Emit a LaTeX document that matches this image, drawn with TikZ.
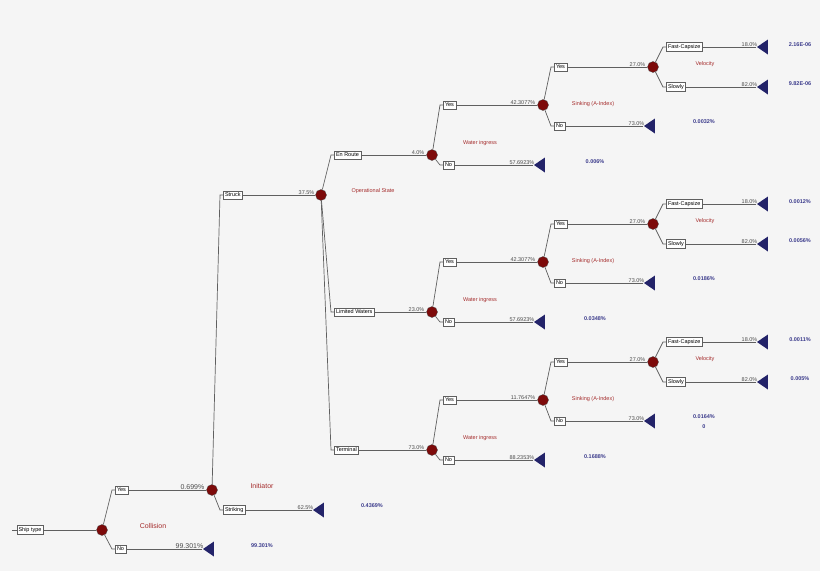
\documentclass[tikz,border=0pt]{standalone}
\usepackage{fontspec}
\setmainfont{Liberation Sans}
\usetikzlibrary{shapes.geometric}
\definecolor{bg}{RGB}{245,245,245}
\definecolor{ln}{RGB}{95,95,95}
\definecolor{cn}{RGB}{125,10,10}
\definecolor{tri}{RGB}{35,35,105}
\definecolor{blu}{RGB}{60,60,140}
\definecolor{rd}{RGB}{165,45,45}
\newcommand\brch[5]{\node[box,anchor=west] (#2) at (#3,#4) {#5};
 \draw[ln] (#1) -- (#3-3,#4) -- (#2.west);}
\begin{document}
\begin{tikzpicture}[x=1pt,y=-1pt,
 box/.style={draw=ln,fill=white,inner sep=1.8pt,font=\fontsize{5.5}{6.5}\selectfont,line width=0.4pt},
 ch/.style={circle,fill=cn,draw=black!70,line width=0.3pt,minimum size=11pt,inner sep=0pt},
 en/.style={isosceles triangle,shape border rotate=180,fill=tri,minimum height=11pt,minimum width=15pt,inner sep=0pt,isosceles triangle stretches},
 ln/.style={draw=ln,line width=0.7pt},
 pc/.style={font=\fontsize{5.5}{6.5}\selectfont,text=black!70,anchor=south east,inner sep=0.5pt},
 rl/.style={font=\fontsize{5.5}{6.5}\selectfont,text=rd},
 bl/.style={font=\bfseries\fontsize{5.5}{6.5}\selectfont,text=blu}]
\fill[bg] (0,0) rectangle (820,571);
\useasboundingbox (0,0) rectangle (820,571);
% root
\node[box] (ship) at (30,530) {Ship type};
\coordinate (st) at (12,530);
\draw[ln] (st) -- (ship.west);
\node[ch] (c0) at (102,530) {};
\draw[ln] (ship.east) -- (c0);
\node[rl,font=\fontsize{7}{8}\selectfont] (t0) at (153,526) {Collision};
\brch{c0}{yes0}{115}{490}{Yes}
\node[ch] (c1) at (212,490) {};
\draw[ln] (yes0.east) -- (c1);
\node[pc,font=\fontsize{7}{8}\selectfont] (p0) at (205,490) {0.699\%};
\brch{c0}{no0}{115}{549}{No}
\node[en] (e0) at (210,549) {};
\draw[ln] (no0.east) -- (e0.apex);
\node[pc,font=\fontsize{7}{8}\selectfont] (p1) at (204,549) {99.301\%};
\node[bl] (b0) at (262,546) {99.301\%};
% initiator
\node[rl,font=\fontsize{7}{8}\selectfont] (t1) at (262,486) {Initiator};
\brch{c1}{struck}{223}{195}{Struck}
\node[ch] (c2) at (321,195) {};
\draw[ln] (struck.east) -- (c2);
\node[pc] (p2) at (315,195) {37.5\%};
\brch{c1}{strik}{223}{510}{Striking}
\node[en] (e1) at (320,510) {};
\draw[ln] (strik.east) -- (e1.apex);
\node[pc] (p3) at (314,510) {62.5\%};
\node[bl] (b1) at (372,506) {0.4369\%};
\node[rl] (t2) at (373,191) {Operational State};
\newcommand\grp[9]{%
 \brch{c2}{#1s}{334}{#2}{#3}
 \node[ch] (#1c) at (432,#2) {};
 \draw[ln] (#1s.east) -- (#1c);
 \node[rl] (#1t) at (480,#2-12) {Water ingress};
 \brch{#1c}{#1y}{443}{#2-50}{Yes}
 \node[ch] (#1d) at (543,#2-50) {};
 \draw[ln] (#1y.east) -- (#1d);
 \node[pc] (#1p) at (536,#2-50) {#4};
 \brch{#1c}{#1n}{443}{#2+10}{No}
 \node[en] (#1e) at (541,#2+10) {};
 \draw[ln] (#1n.east) -- (#1e.apex);
 \node[pc] (#1q) at (535,#2+10) {#5};
 \node[bl] (#1b) at (595,#2+7) {#6};
 \node[rl] (#1u) at (593,#2-51) {Sinking (A-Index)};
 \brch{#1d}{#1yy}{554}{#2-88}{Yes}
 \node[ch] (#1f) at (653,#2-88) {};
 \draw[ln] (#1yy.east) -- (#1f);
 \node[pc] (#1r) at (646,#2-88) {27.0\%};
 \brch{#1d}{#1nn}{554}{#2-29}{No}
 \node[en] (#1g) at (651,#2-29) {};
 \draw[ln] (#1nn.east) -- (#1g.apex);
 \node[pc] (#1s2) at (645,#2-29) {73.0\%};
 \node[bl] (#1b2) at (704,#2-33) {#7};
 \node[rl] (#1v) at (705,#2-91) {Velocity};
 \brch{#1f}{#1fc}{666}{#2-108}{Fast-Capsize}
 \node[en] (#1h) at (764,#2-108) {};
 \draw[ln] (#1fc.east) -- (#1h.apex);
 \node[pc] (#1w) at (758,#2-108) {18.0\%};
 \node[bl] (#1b3) at (800,#2-110) {#8};
 \brch{#1f}{#1sl}{666}{#2-68}{Slowly}
 \node[en] (#1k) at (764,#2-68) {};
 \draw[ln] (#1sl.east) -- (#1k.apex);
 \node[pc] (#1x) at (758,#2-68) {82.0\%};
 \node[bl] (#1b4) at (800,#2-71) {#9};
}
\grp{a}{155}{En Route}{42.3077\%}{57.6923\%}{0.006\%}{0.0032\%}{2.16E-06}{9.82E-06}
\node[pc] (pa) at (425,155) {4.0\%};
\grp{b}{312}{Limited Waters}{42.3077\%}{57.6923\%}{0.0348\%}{0.0186\%}{0.0012\%}{0.0056\%}
\node[pc] (pb) at (425,312) {23.0\%};
\grp{g}{450}{Terminal}{11.7647\%}{88.2353\%}{0.1688\%}{0.0164\%}{0.0011\%}{0.005\%}
\node[pc] (pg) at (425,450) {73.0\%};
\node[bl] (zero) at (704,427) {0};
\end{tikzpicture}
\end{document}
